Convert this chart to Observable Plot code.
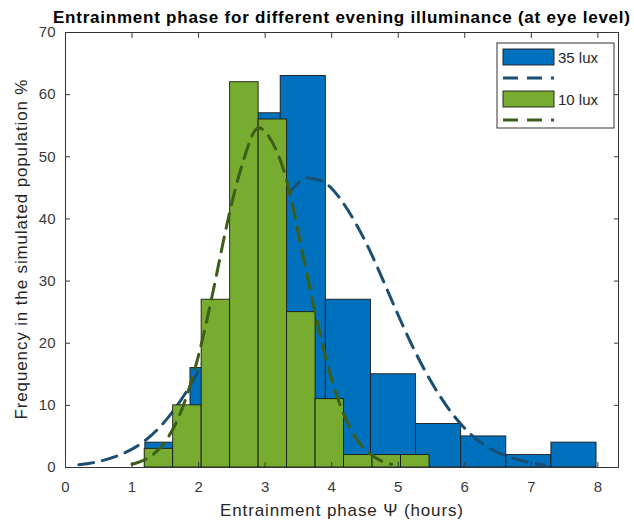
<!DOCTYPE html>
<html>
<head>
<meta charset="utf-8">
<script src="https://cdn.jsdelivr.net/npm/d3@7"></script>
<script src="https://cdn.jsdelivr.net/npm/@observablehq/plot@0.6"></script>
<style>
  html, body { margin: 0; padding: 0; background: #fff; }
  #chart svg { display: block; }
</style>
</head>
<body>
<div id="chart"></div>
<script>
// ---- data ----
const titleText = "Entrainment phase for different evening illuminance (at eye level)";
const xLabel = "Entrainment phase \u03A8 (hours)";
const yLabel = "Frequency in the simulated population %";
const xTicks = [0, 1, 2, 3, 4, 5, 6, 7, 8];
const yTicks = [0, 10, 20, 30, 40, 50, 60, 70];
const seriesNames = ["35 lux", "10 lux"];

// 35 lux histogram
const edges35 = [1.2, 1.878, 2.556, 3.234, 3.912, 4.59, 5.268, 5.946, 6.624, 7.302, 7.98];
const counts35 = [4, 16, 57, 63, 27, 15, 7, 5, 2, 4];
// 10 lux histogram
const edges10 = [1.19, 1.618, 2.046, 2.474, 2.902, 3.33, 3.758, 4.186, 4.614, 5.042, 5.47];
const counts10 = [3, 10, 27, 62, 56, 25, 11, 2, 2, 2];

// fitted curves
const fit35X = [0.2, 0.5, 1, 1.5, 2, 2.5, 3, 3.5, 3.7, 4, 4.5, 5, 5.5, 6, 6.5, 7, 7.2];
const fit35Y = [0.45, 0.97, 2.95, 7.5, 15.6, 27, 38.6, 45.8, 46.5, 44.9, 36.5, 24.5, 13.7, 6.3, 2.4, 0.76, 0.45];
const fit10X = [1.0, 1.25, 1.5, 1.75, 2, 2.25, 2.5, 2.75, 2.95, 3.25, 3.5, 3.75, 4, 4.25, 4.5, 4.75, 4.9];
const fit10Y = [0.53, 1.6, 4.2, 9.4, 18.1, 30, 42.6, 51.9, 54.5, 48.8, 37.7, 25, 14.2, 6.9, 2.9, 1.04, 0.53];

// ---- build tables ----
const bars35 = counts35.map((c, i) => ({x1: edges35[i], x2: edges35[i + 1], y: c}));
const bars10 = counts10.map((c, i) => ({x1: edges10[i], x2: edges10[i + 1], y: c}));
const fit35 = fit35X.map((x, i) => ({x, y: fit35Y[i]}));
const fit10 = fit10X.map((x, i) => ({x, y: fit10Y[i]}));

const blue = "#0072BD", green = "#77AC30";
const blueLine = "#1b4e73", greenLine = "#3d5e18";
const axisColor = "#3a3a3a";
const dash = "15,9";

const W = 634, H = 522;
const mL = 65, mR = 16, mT = 32, mB = 55;

const chart = Plot.plot({
  width: W, height: H,
  marginLeft: mL, marginRight: mR, marginTop: mT, marginBottom: mB,
  style: {fontFamily: "'Liberation Sans', Arial, sans-serif", fontSize: "15px", color: axisColor, background: "#fff"},
  x: {domain: [0, 8.31]},
  y: {domain: [0, 70]},
  marks: [
    Plot.rectY(bars35, {x1: "x1", x2: "x2", y: "y", fill: blue, stroke: "#1a1a1a", strokeWidth: 0.9}),
    Plot.line(fit35, {x: "x", y: "y", stroke: blueLine, strokeWidth: 3, strokeDasharray: dash, curve: "natural"}),
    Plot.rectY(bars10, {x1: "x1", x2: "x2", y: "y", fill: green, stroke: "#1a1a1a", strokeWidth: 0.9}),
    Plot.line(fit10, {x: "x", y: "y", stroke: greenLine, strokeWidth: 3, strokeDasharray: dash, curve: "natural"}),
    Plot.frame({stroke: "#333", strokeWidth: 1}),
    Plot.axisX({ticks: xTicks, anchor: "bottom", tickSize: -5, tickPadding: 19, label: null, tickFormat: d3.format("d")}),
    Plot.axisX({ticks: xTicks, anchor: "top", tickSize: -5, label: null, tickFormat: () => ""}),
    Plot.axisY({ticks: yTicks, anchor: "left", tickSize: -5, tickPadding: 15, label: null, tickFormat: d3.format("d")}),
    Plot.axisY({ticks: yTicks, anchor: "right", tickSize: -5, label: null, tickFormat: () => ""})
  ]
});
document.getElementById("chart").appendChild(chart);

// ---- title, axis labels and legend ----
const svg = d3.select(chart);
const font = "'Liberation Sans', Arial, sans-serif";
const cx = (mL + (W - mR)) / 2;
svg.append("text").attr("x", cx).attr("y", 23).attr("text-anchor", "middle")
  .attr("font-family", font).attr("font-size", 17).attr("font-weight", "bold").attr("fill", "#000")
  .attr("textLength", 577).attr("lengthAdjust", "spacing")
  .text(titleText);
svg.append("text").attr("x", cx).attr("y", 516).attr("text-anchor", "middle")
  .attr("font-family", font).attr("font-size", 17).attr("fill", "#262626")
  .attr("textLength", 243).attr("lengthAdjust", "spacing")
  .text(xLabel);
svg.append("text").attr("transform", `translate(27,${(mT + (H - mB)) / 2}) rotate(-90)`).attr("text-anchor", "middle")
  .attr("font-family", font).attr("font-size", 17).attr("fill", "#262626")
  .attr("textLength", 340).attr("lengthAdjust", "spacing")
  .text(yLabel);

const lg = svg.append("g");
lg.append("rect").attr("x", 497).attr("y", 43).attr("width", 117).attr("height", 85)
  .attr("fill", "#fff").attr("stroke", "#333").attr("stroke-width", 1);
const rows = [
  {name: seriesNames[0], fill: blue, line: blueLine, y: 49},
  {name: seriesNames[1], fill: green, line: greenLine, y: 91}
];
rows.forEach(r => {
  lg.append("rect").attr("x", 503).attr("y", r.y).attr("width", 51).attr("height", 16)
    .attr("fill", r.fill).attr("stroke", "#1a1a1a").attr("stroke-width", 0.9);
  lg.append("text").attr("x", 558).attr("y", r.y + 14).attr("text-anchor", "start")
    .attr("font-family", font).attr("font-size", 15)
    .attr("fill", "#262626").text(r.name);
  lg.append("line").attr("x1", 503).attr("x2", 554).attr("y1", r.y + 29).attr("y2", r.y + 29)
    .attr("stroke", r.line).attr("stroke-width", 3).attr("stroke-dasharray", dash);
});
</script>
</body>
</html>
